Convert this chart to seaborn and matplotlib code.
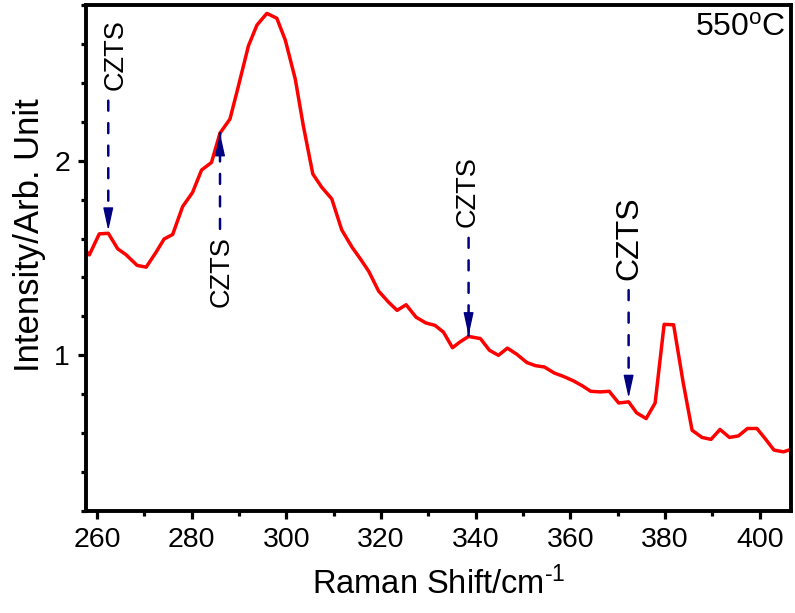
import numpy as np
import pandas as pd
import matplotlib.pyplot as plt
import seaborn as sns
from matplotlib.ticker import MultipleLocator
from matplotlib.transforms import offset_copy

# Raman spectrum (550 C sample)
shift = [257.6, 258.4, 260.5, 262.4, 264.4, 266.1, 268.5, 270.4, 272.5, 274.2,
         276.0, 278.1, 280.2, 282.1, 284.2, 286.0, 288.1, 289.9, 292.0, 293.8,
         295.9, 298.0, 299.8, 301.9, 303.6, 305.6, 307.5, 309.6, 311.7, 313.9,
         315.6, 317.4, 319.5, 321.6, 323.4, 325.3, 327.4, 329.5, 331.4, 333.2,
         335.1, 336.7, 338.5, 341.0, 342.9, 344.8, 346.7, 348.7, 350.8, 352.6,
         354.5, 356.6, 358.5, 360.7, 362.4, 364.3, 366.3, 368.2, 370.2, 372.3,
         374.0, 376.0, 377.9, 379.8, 381.8, 383.8, 385.7, 387.8, 389.7, 391.6,
         393.6, 395.5, 397.4, 399.4, 401.1, 403.0, 405.0, 407.0]
intensity = [1.54, 1.516, 1.624, 1.627, 1.547, 1.518, 1.462, 1.453, 1.530, 1.598,
             1.621, 1.764, 1.837, 1.952, 1.991, 2.142, 2.214, 2.385, 2.590, 2.697,
             2.757, 2.732, 2.619, 2.419, 2.179, 1.932, 1.863, 1.804, 1.645, 1.555,
             1.497, 1.432, 1.330, 1.273, 1.231, 1.260, 1.196, 1.166, 1.154, 1.119,
             1.039, 1.069, 1.097, 1.086, 1.026, 1.000, 1.037, 1.005, 0.963, 0.947,
             0.940, 0.909, 0.892, 0.868, 0.845, 0.815, 0.812, 0.815, 0.755, 0.761,
             0.704, 0.675, 0.755, 1.159, 1.157, 0.863, 0.615, 0.578, 0.568, 0.619,
             0.578, 0.586, 0.624, 0.624, 0.573, 0.513, 0.504, 0.52]

# CZTS peak markers
czts_peaks = [262.4, 286.0, 338.5, 372.3]
czts_labels = ['CZTS', 'CZTS', 'CZTS', 'CZTS']

df = pd.DataFrame({'shift': shift, 'intensity': intensity})

sns.set_style('ticks')
plt.rcParams['font.family'] = ['Liberation Sans', 'DejaVu Sans']
plt.rcParams['mathtext.fontset'] = 'custom'
plt.rcParams['mathtext.rm'] = 'Liberation Sans'
plt.rcParams['mathtext.it'] = 'Liberation Sans:italic'
plt.rcParams['text.color'] = 'black'
plt.rcParams['axes.labelcolor'] = 'black'
plt.rcParams['xtick.color'] = 'black'
plt.rcParams['ytick.color'] = 'black'

fig = plt.figure(figsize=(7.95, 6.13), dpi=100)
ax = fig.add_axes([0.1082, 0.1664, 0.8868, 0.8254])

sns.lineplot(data=df, x='shift', y='intensity', ax=ax, color='red',
             linewidth=2.5, estimator=None, sort=False)

ax.set_xlim(257.7, 406.6)
ax.set_ylim(0.2, 2.8)
ax.xaxis.set_major_locator(MultipleLocator(20))
ax.xaxis.set_minor_locator(MultipleLocator(10))
ax.yaxis.set_major_locator(MultipleLocator(1))
ax.yaxis.set_minor_locator(MultipleLocator(0.2))
ax.tick_params(which='major', direction='out', length=5.5, width=2.3,
               labelsize=20.5, pad=6, color='black', labelcolor='black')
ax.tick_params(which='minor', direction='out', length=3.5, width=2.3)
for sp in ax.spines.values():
    sp.set_linewidth(2.8)
    sp.set_color('black')

ax.set_xlabel('Raman Shift/cm$^{\\text{-1}}$', fontsize=23.5, labelpad=10,
              color='black')
ax.set_ylabel('Intensity/Arb. Unit', fontsize=25, color='black')
ax.yaxis.set_label_coords(-0.057, 0.545)

ax.text(0.992, 0.985, '550$^{\\mathrm{o}}$C', transform=ax.transAxes,
        ha='right', va='top', fontsize=23, color='black')

# arrow tip offset, dash start offset, text offset (points), direction, font size
arrow_cfg = [
    (1.9, 95.5, (5, 103), 'down', 19.5),
    (0.0, -69.0, (1, -74), 'up', 19.5),
    (0.7, 71.0, (-1, 78.5), 'down', 19.5),
    (2.7, 80.4, (0.5, 87.6), 'down', 23),
]
xs = np.array(shift)
for peak, lab, (tip, start, toff, way, fs) in zip(czts_peaks, czts_labels, arrow_cfg):
    i = int(np.argmin(np.abs(xs - peak)))
    px, py = shift[i], intensity[i]
    tr_tip = offset_copy(ax.transData, fig=fig, x=0, y=tip, units='points')
    tr_start = offset_copy(ax.transData, fig=fig, x=0, y=start, units='points')
    # dashed shaft
    ax.annotate('', xy=(px, py), xycoords=tr_tip,
                xytext=(px, py), textcoords=tr_start,
                arrowprops=dict(arrowstyle='-', color='#000080', lw=1.8,
                                linestyle=(0, (4, 5)), shrinkA=0, shrinkB=0))
    # solid head
    head_len = 12.0 if way == 'down' else -12.0
    tr_head = offset_copy(ax.transData, fig=fig, x=0, y=tip + head_len, units='points')
    ax.annotate('', xy=(px, py), xycoords=tr_tip,
                xytext=(px, py), textcoords=tr_head,
                arrowprops=dict(arrowstyle='-|>,head_length=1.0,head_width=0.22',
                                color='#000080', lw=1.0, shrinkA=0, shrinkB=0,
                                mutation_scale=14))
    ax.annotate(lab, xy=(px, py), xytext=toff, textcoords='offset points',
                rotation=90, ha='center', color='black',
                va='bottom' if way == 'down' else 'top', fontsize=fs)

plt.savefig('out.png', dpi=100)
